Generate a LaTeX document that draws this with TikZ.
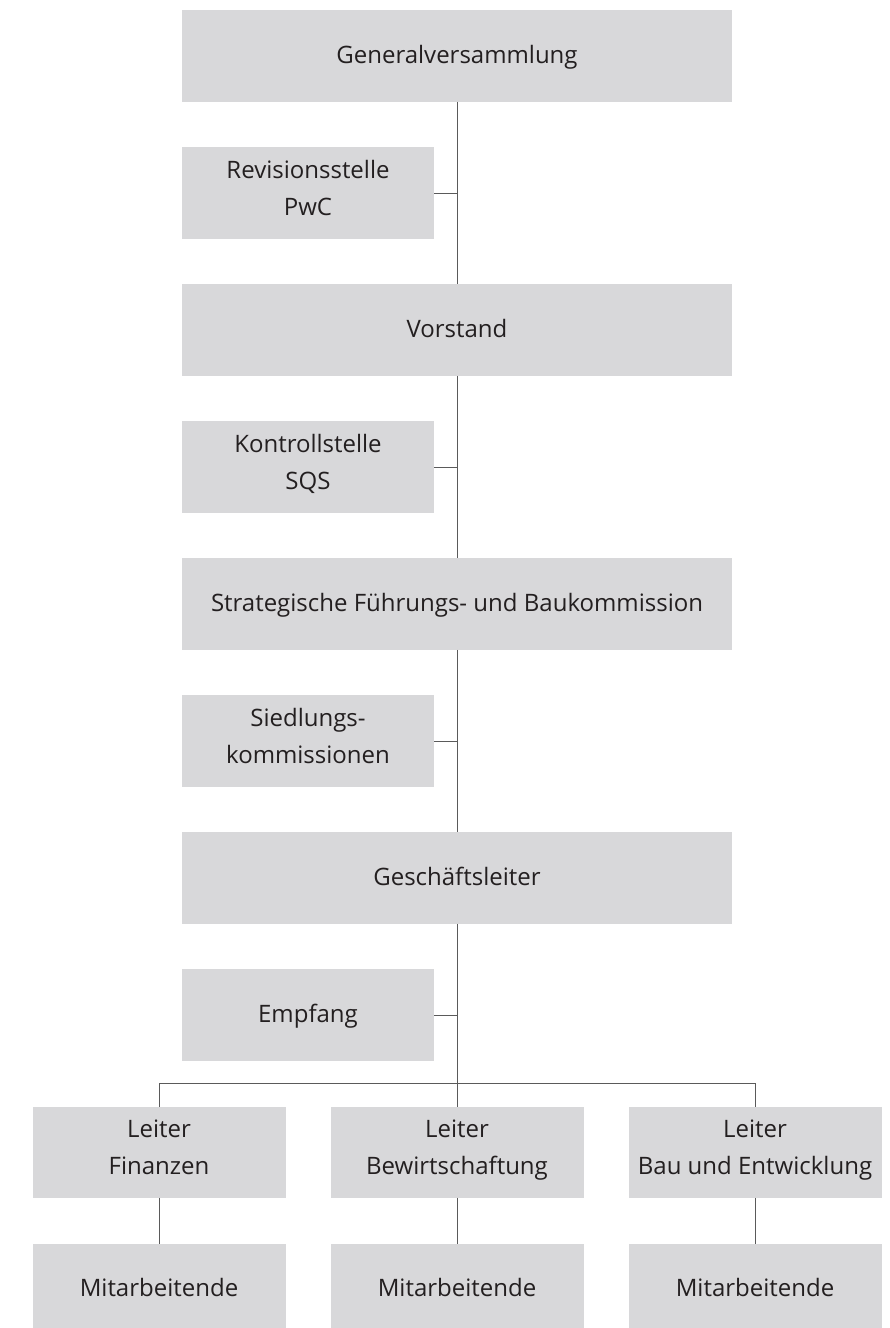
\documentclass[tikz,border=0pt]{standalone}
\usepackage{fontspec}
\setmainfont{Open Sans}
\usetikzlibrary{positioning}
\definecolor{boxgray}{RGB}{216,216,218}
\definecolor{linegray}{RGB}{90,90,90}
\definecolor{textgray}{RGB}{35,31,32}

\begin{document}
\begin{tikzpicture}[x=1pt,y=1pt,line width=1pt,draw=linegray,
    main node/.style={fill=boxgray,inner sep=0pt,outer sep=0pt,minimum height=91.5pt,text=textgray,align=center,font=\fontsize{24}{37}\selectfont,execute at begin node=\strut,execute at end node=\strut},
    wide node/.style={main node,minimum width=550pt},
    side node/.style={main node,minimum width=252pt},
    low node/.style={main node,minimum width=253pt,minimum height=91pt}]
            \useasboundingbox (0,0) rectangle (890,-1328);
            \clip (0,0) rectangle (890,-1328);

            \node[wide node] (1) at (457,-56) {Generalversammlung};
            \node[side node] (2) [below right=45.5pt and 0pt of 1.south west] {Revisionsstelle\\PwC};
            \node[wide node] (3) [below right=45.5pt and 0pt of 2.south west] {Vorstand};
            \node[side node] (4) [below right=45.5pt and 0pt of 3.south west] {Kontrollstelle\\SQS};
            \node[wide node] (5) [below right=45.5pt and 0pt of 4.south west] {Strategische Führungs- und Baukommission};
            \node[side node] (6) [below right=45.5pt and 0pt of 5.south west] {Siedlungs-\\kommissionen};
            \node[wide node] (7) [below right=45.5pt and 0pt of 6.south west] {Geschäftsleiter};
            \node[side node] (8) [below right=45.5pt and 0pt of 7.south west] {Empfang};

            \node[low node] (10) [below=183pt of 7] {Leiter\\Bewirtschaftung};
            \node[low node] (9) [left=45pt of 10] {Leiter\\Finanzen};
            \node[low node] (11) [right=45pt of 10] {Leiter\\Bau und Entwicklung};

            \node[low node] (12) [below=46pt of 9] {Mitarbeitende};
            \node[low node] (13) [below=46pt of 10] {Mitarbeitende};
            \node[low node] (14) [below=46pt of 11] {Mitarbeitende};

            \path[draw=linegray]
                (1) edge (3)
                (3) edge (5)
                (5) edge (7)
                (7) edge (10)
                (2.east) edge (2.east -| 1.south)
                (4.east) edge (4.east -| 3.south)
                (6.east) edge (6.east -| 5.south)
                (8.east) edge (8.east -| 7.south)
                (9) edge (12)
                (10) edge (13)
                (11) edge (14)
                ;
            \draw[linegray] (9.north) |- ([yshift=23pt]10.north) -| (11.north);
        \end{tikzpicture}
\end{document}
